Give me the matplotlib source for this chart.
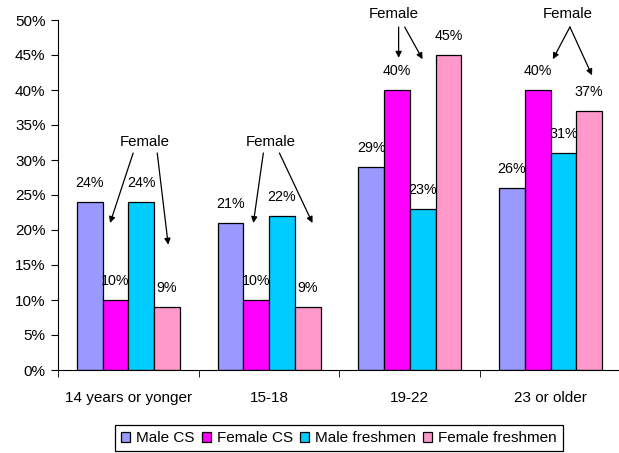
import matplotlib.pyplot as plt
import numpy as np
from matplotlib.ticker import FixedLocator, PercentFormatter

plt.rcParams['font.family'] = ['Liberation Sans', 'DejaVu Sans']

groups = ['14 years or yonger', '15-18', '19-22', '23 or older']
series = ['Male CS', 'Female CS', 'Male freshmen', 'Female freshmen']
male_cs = [24, 21, 29, 26]
female_cs = [10, 10, 40, 40]
male_fresh = [24, 22, 23, 31]
female_fresh = [9, 9, 45, 37]
colors = ['#9999FF', '#FF00FF', '#00CCFF', '#FF99CC']

# "Female" callouts: text position, then arrow (start, end) pairs, data coords
callouts = [
    ((0.119, 32.6), [((0.034, 31.0), (-0.130, 21.0)), ((0.205, 31.0), (0.283, 17.9))]),
    ((1.009, 32.6), [((0.959, 31.0), (0.888, 21.0)), ((1.073, 31.0), (1.308, 21.0))]),
    ((1.884, 50.9), [((1.920, 49.0), (1.920, 44.6)), ((1.963, 49.0), (2.090, 44.4))]),
    ((3.123, 50.9), [((3.137, 49.0), (3.016, 44.4)), ((3.137, 49.0), (3.294, 42.1))]),
]

fig = plt.figure(figsize=(6.19, 4.53), dpi=100)
ax = fig.add_axes([58 / 619, 1 - 370 / 453, 563 / 619, 350 / 453])

x = np.arange(len(groups))
w = 0.183
handles = []
for i, (vals, c) in enumerate(zip([male_cs, female_cs, male_fresh, female_fresh], colors)):
    pos = x + (i - 1.5) * w
    b = ax.bar(pos, vals, w, color=c, edgecolor='black', linewidth=0.9, label=series[i])
    handles.append(b)
    for px, v in zip(pos, vals):
        ax.annotate(f'{v}%', (px, v), xytext=(0, 13.7), textcoords='offset points',
                    ha='center', va='center', fontsize=10.3)

for (tx, ty), arrows in callouts:
    ax.text(tx, ty, 'Female', ha='center', va='center', fontsize=10.8, clip_on=False)
    for start, end in arrows:
        ax.annotate('', xy=end, xytext=start, annotation_clip=False,
                    arrowprops=dict(arrowstyle='-|>', color='black', lw=0.9,
                                    mutation_scale=9, shrinkA=0, shrinkB=0))

ax.set_xlim(-0.5, 3.5)
ax.set_ylim(0, 50)
ax.set_yticks(np.arange(0, 51, 5))
ax.yaxis.set_major_formatter(PercentFormatter(decimals=0))
ax.set_xticks(x)
ax.set_xticklabels(groups)
ax.xaxis.set_minor_locator(FixedLocator(np.arange(-0.5, 4, 1.0)))
ax.tick_params(axis='x', which='major', length=0, pad=15, labelsize=11)
ax.tick_params(axis='x', which='minor', length=5, direction='out')
ax.tick_params(axis='y', length=5, pad=4, labelsize=11)
ax.spines['top'].set_visible(False)
ax.spines['right'].set_visible(False)

leg = fig.legend(handles=handles, labels=series, loc='upper center',
                 bbox_to_anchor=(339 / 619, 1 - 425 / 453), ncol=4, fontsize=11,
                 handlelength=0.6, handleheight=0.6, handletextpad=0.4,
                 columnspacing=0.45, borderpad=0.4, borderaxespad=0,
                 fancybox=False, framealpha=1)
leg.get_frame().set_edgecolor('black')
leg.get_frame().set_linewidth(0.9)

fig.savefig('out.png', dpi=100)
